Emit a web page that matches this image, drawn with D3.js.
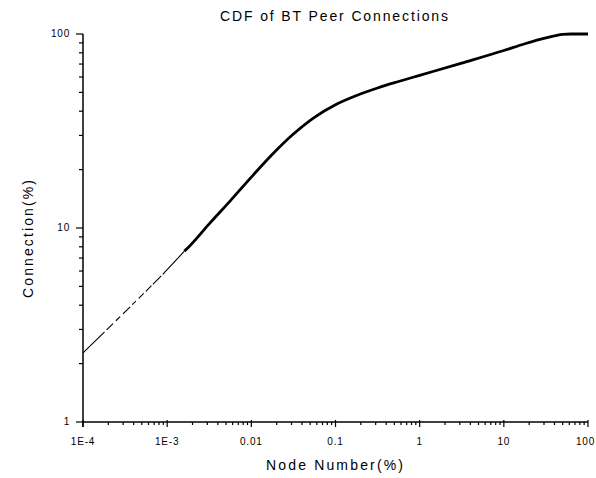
<!DOCTYPE html>
<html><head><meta charset="utf-8">
<script src="https://cdn.jsdelivr.net/npm/d3@7"></script>
<style>
body{margin:0;background:#fff;}
svg text{font-family:"Liberation Sans",Arial,sans-serif;fill:#000;}
</style></head>
<body><svg id="c" width="596" height="478"></svg>
<script>
const title = "CDF of BT Peer Connections";
const xLabel = "Node Number(%)";
const yLabel = "Connection(%)";
const xTickValues = [1e-4, 1e-3, 1e-2, 1e-1, 1, 10, 100];
const xTickLabels = ["1E-4", "1E-3", "0.01", "0.1", "1", "10", "100"];
const yTickValues = [1, 10, 100];
const yTickLabels = ["1", "10", "100"];
// sparse (thin) early part of the curve
const nodeThin = [1e-4, 1.78e-4, 3.16e-4, 5.62e-4, 1e-3, 1.6e-3];
const connThin = [2.27, 2.90, 3.70, 4.73, 6.10, 7.6];
// dense (thick) part of the curve
const nodeThick = [1.6e-3, 1.78e-3, 3.16e-3, 5.62e-3, 0.01, 0.0178, 0.0316, 0.0562, 0.1, 0.178, 0.316, 0.562, 1, 3.16, 10, 17.8, 31.6, 50, 63, 100];
const connThick = [7.6, 7.94, 10.5, 13.8, 18.3, 24.0, 30.5, 37.2, 43.2, 48.2, 52.7, 56.9, 61.2, 70.8, 82.2, 89.1, 95.5, 99.5, 100, 100];

const svg = d3.select("#c");
const x = d3.scaleLog().domain([1e-4, 100]).range([83, 588]);
const y = d3.scaleLog().domain([1, 100]).range([422, 34]);

function minors(lo, hi){
  const out=[];
  for(let e=Math.log10(lo); e<Math.log10(hi)-1e-9; e++){
    for(let m=2;m<=9;m++) out.push(m*Math.pow(10,e));
  }
  return out;
}
const g = svg.append("g");
// x axis
g.append("line").attr("x1",x(1e-4)).attr("x2",x(100)).attr("y1",y(1)).attr("y2",y(1)).attr("stroke","#000").attr("stroke-width",1.5);
g.selectAll(".xmin").data(minors(1e-4,100)).enter().append("line")
  .attr("x1",d=>x(d)).attr("x2",d=>x(d)).attr("y1",y(1)).attr("y2",y(1)+3).attr("stroke","#000").attr("stroke-width",1.2);
g.selectAll(".xmaj").data(xTickValues).enter().append("line")
  .attr("x1",d=>x(d)).attr("x2",d=>x(d)).attr("y1",y(1)-2).attr("y2",y(1)+5).attr("stroke","#000").attr("stroke-width",1.2);
g.selectAll(".xlab").data(xTickValues).enter().append("text")
  .attr("x",(d,i)=> i===xTickValues.length-1 ? 595 : x(d))
  .attr("y",y(1)+23)
  .attr("text-anchor",(d,i)=> i===xTickValues.length-1 ? "end" : "middle")
  .attr("font-size",10).attr("letter-spacing",0.8)
  .text((d,i)=>xTickLabels[i]);
// y axis
g.append("line").attr("x1",x(1e-4)).attr("x2",x(1e-4)).attr("y1",y(1)+5).attr("y2",y(100)).attr("stroke","#000").attr("stroke-width",1.5);
g.selectAll(".ymin").data(minors(1,100)).enter().append("line")
  .attr("x1",x(1e-4)-4).attr("x2",x(1e-4)).attr("y1",d=>y(d)).attr("y2",d=>y(d)).attr("stroke","#000").attr("stroke-width",1.2);
g.selectAll(".ymaj").data(yTickValues).enter().append("line")
  .attr("x1",x(1e-4)-7).attr("x2",x(1e-4)).attr("y1",d=>y(d)).attr("y2",d=>y(d)).attr("stroke","#000").attr("stroke-width",1.2);
g.selectAll(".ylab").data(yTickValues).enter().append("text")
  .attr("x",x(1e-4)-13).attr("y",d=>y(d)+3).attr("text-anchor","end").attr("font-size",10).attr("letter-spacing",0.8)
  .text((d,i)=>yTickLabels[i]);

// curve
const line = d3.line().x(d=>x(d[0])).y(d=>y(d[1])).curve(d3.curveMonotoneX);
svg.append("path").datum(nodeThin.map((v,i)=>[v,connThin[i]]))
  .attr("d",line).attr("fill","none").attr("stroke","#000").attr("stroke-width",1.1)
  .attr("stroke-dasharray","30,3,9,4,6,4,10,3,5,4,7,3,8,2,12,2,300,0");
svg.append("path").datum(nodeThick.map((v,i)=>[v,connThick[i]]))
  .attr("d",line).attr("fill","none").attr("stroke","#000").attr("stroke-width",2.8);

// titles
svg.append("text").attr("x",334).attr("y",21).attr("text-anchor","middle").attr("font-size",14)
  .attr("textLength",228).attr("lengthAdjust","spacing").text(title);
svg.append("text").attr("x",334.5).attr("y",470).attr("text-anchor","middle").attr("font-size",14)
  .attr("textLength",137).attr("lengthAdjust","spacing").text(xLabel);
svg.append("text").attr("transform","translate(33,239) rotate(-90)").attr("text-anchor","middle").attr("font-size",14)
  .attr("textLength",118).attr("lengthAdjust","spacing").text(yLabel);
</script></body></html>
